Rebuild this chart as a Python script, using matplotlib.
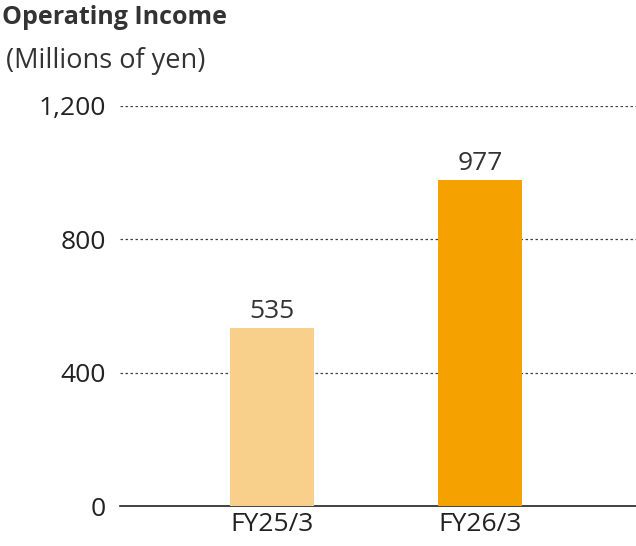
import matplotlib
matplotlib.use("Agg")
import matplotlib.pyplot as plt

categories = ["FY25/3", "FY26/3"]
values = [535, 977]
colors = ["#F9D08B", "#F5A200"]
yticks = [0, 400, 800, 1200]
ytick_labels = ["0", "400", "800", "1,200"]

plt.rcParams['font.family'] = ['Open Sans', 'DejaVu Sans']
fig = plt.figure(figsize=(6.36, 5.46), dpi=100)
ax = fig.add_axes([120/636, 40/546, 516/636, 400/546])
x = list(range(len(categories)))
bars = ax.bar(x, values, width=0.4, color=colors, zorder=3)
for xi, v in zip(x, values):
    ax.text(xi, v + 12, f"{v:,}", ha="center", va="bottom", fontsize=19, color="#333333")
ax.set_xlim(-0.731, 1.75)
ax.set_ylim(0, 1200)
ax.set_yticks(yticks)
ax.set_yticklabels(ytick_labels, fontsize=19, color="#222222")
ax.set_xticks(x)
ax.set_xticklabels(categories, fontsize=19, color="#222222")
ax.tick_params(axis="y", length=0, pad=10)
ax.tick_params(axis="x", length=0, pad=4)
for y in yticks[1:]:
    ax.axhline(y, color="#444444", linestyle=(0, (2, 2)), linewidth=0.9, zorder=1)
for s in ["left", "right", "top"]:
    ax.spines[s].set_visible(False)
ax.spines["bottom"].set_color("#222222")
ax.spines["bottom"].set_linewidth(1.2)
fig.text(2/636, 1-17/546, "Operating Income", fontsize=18, fontweight="bold", color="#333333", va="center")
fig.text(6/636, 1-61/546, "(Millions of yen)", fontsize=19.5, color="#333333", va="center")
fig.savefig("out.png", dpi=100)
